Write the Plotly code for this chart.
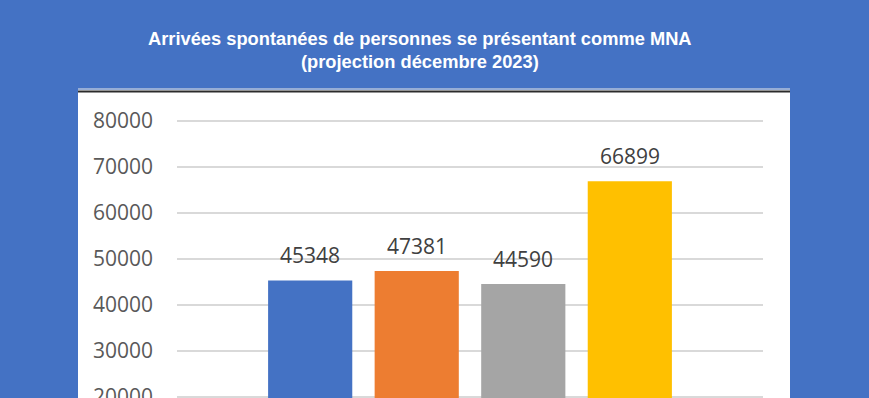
import plotly.graph_objects as go

categories = ["2020", "2021", "2022", "2023"]
values = [45348, 47381, 44590, 66899]
colors = ["#4472C4", "#ED7D31", "#A5A5A5", "#FFC000"]
tick_vals = [10000, 20000, 30000, 40000, 50000, 60000, 70000, 80000]
title_lines = ["Arrivées spontanées de personnes se présentant comme MNA",
               "(projection décembre 2023)"]

W, H = 869, 440
L, R, T, B = 177, 763, 92, 440
pw, ph = R - L, B - T

def px(x):
    return (x - L) / pw

def py(y):
    return (B - y) / ph

fig = go.Figure()
fig.add_trace(go.Bar(
    x=list(range(len(categories))), y=values,
    marker=dict(color=colors, line=dict(width=0)),
    width=0.79, hoverinfo="skip",
))
for i, v in enumerate(values):
    fig.add_annotation(x=i, y=v, xref="x", yref="y", text=str(v),
                       showarrow=False, yanchor="middle", yshift=25,
                       font=dict(family="Open Sans", size=21, color="#404040"))

# title
for line, yy in zip(title_lines, [38, 62]):
    fig.add_annotation(x=px(420), y=py(yy), xref="paper", yref="paper", text=line,
                       showarrow=False, xanchor="center", yanchor="middle",
                       font=dict(family="Liberation Sans", size=18.3, color="white", weight="bold"))

# white panel
fig.add_shape(type="rect", xref="paper", yref="paper",
              x0=px(78), x1=px(790), y0=-0.05, y1=py(90),
              fillcolor="white", line=dict(width=0), layer="below")
fig.add_shape(type="line", xref="paper", yref="paper",
              x0=px(78), x1=px(790), y0=py(89), y1=py(89),
              line=dict(color="#e8e8e8", width=1), layer="above")
fig.add_shape(type="line", xref="paper", yref="paper",
              x0=px(78), x1=px(790), y0=py(91.5), y1=py(91.5),
              line=dict(color="#2b2b2b", width=2), layer="above")

ymin = 20000 - (B - 397) / 46 * 10000
ymax = 20000 + (397 - T) / 46 * 10000

fig.update_layout(
    width=W, height=H,
    margin=dict(l=L, r=W - R, t=T, b=H - B, pad=0),
    paper_bgcolor="#4472C4", plot_bgcolor="white",
    showlegend=False,
    xaxis=dict(range=[-1.25, 4.25], showticklabels=False, showgrid=False,
               zeroline=False, showline=False, ticks=""),
    yaxis=dict(range=[ymin, ymax], tickvals=tick_vals, ticktext=[str(t) for t in tick_vals],
               showgrid=True, gridcolor="#d9d9d9", gridwidth=1.5, zeroline=False,
               showline=False, ticks="", ticklabelstandoff=23,
               tickfont=dict(family="Open Sans", size=21, color="#595959")),
)
fig.write_html("out.html", config={"displayModeBar": False, "staticPlot": True},
               post_script="document.body.style.margin='0';document.body.style.overflow='hidden';")
